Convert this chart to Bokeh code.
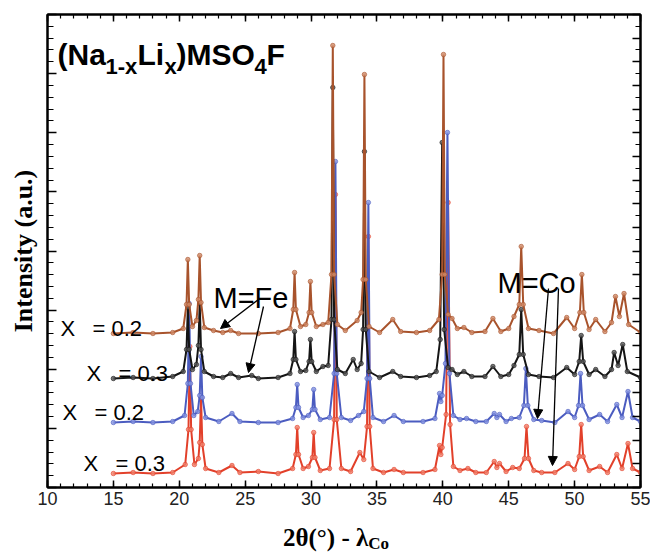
from math import pi
from bokeh.plotting import figure
from bokeh.layouts import column
from bokeh.models import (Range1d, LinearAxis, FixedTicker, Label, Arrow, NormalHead, Div,
                          CustomJSTickFormatter)
from bokeh.embed import file_html
from bokeh.resources import INLINE

# ---------------- data ----------------
# M = Fe, x = 0.2 (brown)
tt_fe02 = [15.0, 16.5, 18.0, 19.5, 20.3, 20.55, 20.65, 20.75, 21.0, 21.3, 21.45, 21.55, 21.65, 21.9,
           22.6, 23.3, 23.9, 24.5, 26.0, 27.5, 28.4, 28.65, 28.75, 28.85, 29.2, 29.6, 29.85, 29.95,
           30.05, 30.4, 30.9, 31.3, 31.55, 31.65, 31.75, 32.0, 32.6, 33.5, 33.8, 33.95, 34.05, 34.15,
           34.4, 35.2, 36.2, 36.8, 38.0, 39.0, 39.7, 39.95, 40.05, 40.15, 40.4, 40.7, 41.1, 41.6,
           42.2, 43.2, 43.8, 44.4, 45.0, 45.4, 45.8, 45.95, 46.1, 46.5, 47.3, 48.4, 49.4, 50.0,
           50.4, 50.55, 50.7, 51.1, 51.6, 52.3, 52.8, 53.1, 53.4, 53.75, 54.1, 55.0]
int_fe02 = [1, 2, 1, 2, 6, 30, 75, 30, 8, 14, 35, 79, 32, 7,
            4, 2, 4, 1, 1, 2, 6, 25, 62, 25, 8, 10, 22, 53,
            22, 8, 10, 12, 60, 289, 60, 10, 4, 14, 22, 55, 260, 55,
            8, 2, 15, 3, 2, 4, 15, 60, 280, 60, 20, 16, 6, 7,
            2, 3, 16, 3, 6, 18, 30, 88, 30, 6, 4, 1, 17, 6,
            22, 60, 22, 5, 15, 3, 12, 38, 18, 41, 10, 2]

# M = Fe, x = 0.3 (black)
tt_fe03 = [15.0, 16.5, 18.0, 19.5, 20.3, 20.55, 20.65, 20.75, 21.0, 21.3, 21.45, 21.55, 21.65, 21.9,
           22.6, 23.3, 23.9, 24.5, 25.5, 26.0, 27.5, 28.4, 28.65, 28.75, 28.85, 29.2, 29.6, 29.85,
           29.95, 30.05, 30.4, 30.9, 31.3, 31.55, 31.65, 31.75, 32.0, 32.6, 33.2, 33.5, 33.8, 33.95,
           34.05, 34.15, 34.4, 35.2, 36.2, 36.8, 38.0, 39.0, 39.5, 39.8, 39.95, 40.1, 40.4, 40.7,
           41.1, 41.6, 42.2, 43.2, 43.8, 44.4, 45.0, 45.4, 45.8, 45.95, 46.1, 46.5, 47.3, 48.4,
           49.4, 50.0, 50.35, 50.5, 50.65, 51.1, 51.6, 52.3, 52.8, 53.0, 53.3, 53.65, 54.0, 55.0]
int_fe03 = [1, 2, 1, 3, 8, 30, 72, 30, 10, 15, 34, 76, 30, 8,
            3, 2, 6, 2, 4, 1, 2, 6, 20, 48, 20, 8, 9, 18,
            40, 18, 8, 13, 14, 60, 292, 60, 10, 6, 20, 10, 16, 50,
            228, 50, 8, 2, 8, 3, 2, 4, 8, 40, 237, 50, 12, 10,
            5, 8, 3, 3, 13, 3, 5, 14, 25, 70, 25, 5, 3, 2,
            12, 5, 18, 44, 18, 5, 10, 3, 10, 27, 14, 35, 8, 2]

# M = Co, x = 0.2 (blue)
tt_co02 = [15.0, 16.5, 18.0, 19.5, 20.4, 20.65, 20.75, 20.85, 21.1, 21.4, 21.55, 21.65, 21.75, 22.0,
           23.0, 24.0, 24.6, 26.0, 27.5, 28.6, 28.85, 28.95, 29.05, 29.4, 29.8, 30.1, 30.2, 30.3,
           30.7, 31.4, 31.75, 31.85, 31.95, 32.3, 33.0, 33.6, 34.0, 34.25, 34.35, 34.45, 34.7, 35.5,
           36.3, 37.0, 38.5, 39.4, 39.75, 39.85, 39.95, 40.2, 40.35, 40.5, 40.8, 41.3, 41.8, 42.5,
           43.3, 43.9, 44.1, 44.3, 44.8, 45.2, 45.8, 46.15, 46.3, 46.45, 46.9, 47.5, 48.5, 49.5,
           50.0, 50.3, 50.45, 50.6, 51.1, 51.9, 52.5, 53.2, 53.6, 54.05, 54.4, 55.0]
int_co02 = [1, 2, 1, 2, 8, 40, 120, 40, 8, 12, 28, 67, 26, 6,
            2, 10, 2, 1, 1, 5, 16, 39, 16, 6, 8, 14, 34, 14,
            4, 6, 50, 262, 50, 6, 3, 8, 12, 45, 221, 45, 6, 2,
            8, 2, 2, 5, 30, 22, 28, 60, 291, 50, 8, 4, 5, 2,
            2, 10, 6, 9, 2, 5, 6, 18, 55, 18, 4, 3, 1, 12,
            6, 18, 50, 18, 4, 9, 2, 19, 6, 32, 6, 2]

# M = Co, x = 0.3 (red)
tt_co03 = [15.0, 16.5, 18.0, 19.5, 20.45, 20.7, 20.8, 20.9, 21.15, 21.45, 21.55, 21.65, 21.75, 22.0,
           23.0, 24.0, 24.6, 26.0, 27.5, 28.6, 28.85, 28.95, 29.05, 29.4, 29.8, 30.1, 30.2, 30.3,
           30.7, 31.4, 31.75, 31.85, 31.95, 32.3, 33.0, 33.7, 34.0, 34.25, 34.35, 34.45, 34.7, 35.5,
           36.3, 37.0, 38.5, 39.4, 39.75, 39.85, 39.95, 40.25, 40.4, 40.55, 40.8, 41.3, 41.9, 42.5,
           43.3, 43.9, 44.1, 44.3, 44.8, 45.3, 45.8, 46.2, 46.35, 46.5, 46.9, 47.5, 48.5, 49.5,
           50.0, 50.35, 50.5, 50.65, 51.1, 51.9, 52.5, 53.2, 53.6, 54.05, 54.4, 55.0]
int_co03 = [1, 2, 1, 2, 10, 45, 128, 45, 10, 16, 32, 77, 30, 6,
            2, 9, 2, 3, 1, 6, 20, 47, 20, 6, 8, 17, 42, 17,
            4, 6, 55, 280, 55, 6, 3, 22, 15, 48, 238, 48, 6, 2,
            5, 2, 2, 5, 29, 20, 27, 60, 272, 50, 8, 4, 6, 2,
            2, 13, 7, 11, 3, 7, 6, 16, 48, 16, 4, 2, 2, 11,
            5, 18, 50, 18, 4, 8, 2, 20, 6, 31, 6, 2]

# vertical offsets of the stacked patterns
offset_fe02 = 153
offset_fe03 = 108
offset_co02 = 64
offset_co03 = 13

x_ticks_major = [10, 15, 20, 25, 30, 35, 40, 45, 50, 55]

# ---------------- figure ----------------
X0, X1 = 10, 55
Y0, Y1 = 0, 473
W, H = 650, 554
PLOT_H = 522
FL, FR, FT, FB = 47, 640, 14, 487


def dx(px):
    return X0 + (px - FL) * (X1 - X0) / (FR - FL)


def dy(py):
    return Y0 + (FB - py) * (Y1 - Y0) / (FB - FT)


p = figure(width=W, height=PLOT_H, x_range=Range1d(X0, X1), y_range=Range1d(Y0, Y1),
           output_backend="svg", toolbar_location=None,
           x_axis_location=None, y_axis_location=None,
           min_border_left=FL, min_border_right=W - FR,
           min_border_top=FT, min_border_bottom=PLOT_H - FB, margin=0)
p.xgrid.visible = False
p.ygrid.visible = False
p.outline_line_color = "black"
p.outline_line_width = 2
p.background_fill_color = "white"
p.border_fill_color = "white"

blank = CustomJSTickFormatter(code="return ''")


def style_axis(ax, major_in=8, minor_in=4, labels=False):
    ax.axis_line_color = "black"
    ax.axis_line_width = 2
    ax.major_tick_in = major_in
    ax.major_tick_out = 0
    ax.minor_tick_in = minor_in
    ax.minor_tick_out = 0
    ax.major_tick_line_width = 1.5
    ax.minor_tick_line_width = 1.2
    ax.major_tick_line_color = "black"
    ax.minor_tick_line_color = "black"
    if not labels:
        ax.formatter = blank
        ax.major_label_standoff = 0


xb = LinearAxis(ticker=FixedTicker(ticks=x_ticks_major,
                                   minor_ticks=list(range(X0, X1 + 1))))
style_axis(xb, 7, 4, labels=True)
xb.major_label_text_font = "Liberation Sans"
xb.major_label_text_font_size = "18px"
xb.major_label_text_color = "#222222"
xb.major_label_standoff = 4
p.add_layout(xb, "below")

xt = LinearAxis(ticker=FixedTicker(ticks=x_ticks_major,
                                   minor_ticks=list(range(X0, X1 + 1))))
style_axis(xt, 7, 4)
p.add_layout(xt, "above")

yl = LinearAxis(ticker=FixedTicker(ticks=[Y0 + i * (Y1 - Y0) / 8 for i in range(9)],
                                   minor_ticks=[Y0 + i * (Y1 - Y0) / 40 for i in range(41)]))
style_axis(yl, 9, 6)
yl.axis_label = "Intensity (a.u.)"
yl.axis_label_text_font = "Liberation Serif"
yl.axis_label_text_font_style = "bold"
yl.axis_label_text_font_size = "26px"
yl.axis_label_text_color = "black"
yl.axis_label_standoff = 10
p.add_layout(yl, "left")

yr = LinearAxis(ticker=FixedTicker(ticks=[Y0 + i * (Y1 - Y0) / 20 for i in range(21)],
                                   minor_ticks=[Y0 + i * (Y1 - Y0) / 40 for i in range(41)]))
style_axis(yr, 8, 5)
p.add_layout(yr, "right")

series = [
    (tt_co03, int_co03, offset_co03, "#e2402a", "#f0806a"),
    (tt_co02, int_co02, offset_co02, "#4b5cc0", "#8392e0"),
    (tt_fe03, int_fe03, offset_fe03, "#151515", "#555555"),
    (tt_fe02, int_fe02, offset_fe02, "#a8532c", "#cf8a66"),
]
for xs, ys, off, lc, mc in series:
    yy = [v + off for v in ys]
    p.line(xs, yy, line_color=lc, line_width=2)
    p.scatter(xs, yy, size=4.5, marker="circle", fill_color=mc, line_color=lc,
              line_width=0.6, fill_alpha=0.8)

# ---------------- texts ----------------
SANS = "Liberation Sans"


def lab(px, py, text, size, style="normal"):
    p.add_layout(Label(x=dx(px), y=dy(py), text=text, text_font=SANS,
                       text_font_size=f"{size}px", text_font_style=style,
                       text_align="left", text_baseline="alphabetic", text_color="black"))


# title (Na1-xLix)MSO4F
tb, sb = 54, 66
lab(57, tb, "(Na", 30, style="bold")
lab(105, sb, "1-x", 22, style="bold")
lab(137, tb, "Li", 30, style="bold")
lab(164, sb, "x", 22, style="bold")
lab(176, tb, ")MSO", 30, style="bold")
lab(254, sb, "4", 22, style="bold")
lab(266, tb, "F", 30, style="bold")

# series labels
for (px, py) in [(60, 328), (86, 373), (62, 412), (83, 463)]:
    lab(px, py, "X", 22)
for (px, py, t) in [(92, 328, "= 0.2"), (118, 373, "= 0.3"), (94, 412, "= 0.2"), (115, 463, "= 0.3")]:
    lab(px, py, t, 22)

lab(213, 297, "M=Fe", 29)
lab(497, 282, "M=Co", 29)

# arrows
for (x0, y0, x1, y1) in [(258, 299, 220, 328), (263, 306, 248, 372),
                         (548, 288, 537, 418), (558, 288, 552, 465)]:
    p.add_layout(Arrow(end=NormalHead(size=9, fill_color="black", line_color="black",
                                      line_width=1),
                       x_start=dx(x0), y_start=dy(y0), x_end=dx(x1), y_end=dy(y1),
                       line_color="black", line_width=1.3))

# x-axis title with subscript, set under the plot
xlabel_html = (
    '<div style="position:relative;width:650px;height:32px;overflow:visible;">'
    '<span style="position:absolute;left:283px;top:1px;font-family:\'Liberation Serif\';'
    'font-weight:bold;font-size:25px;line-height:30px;white-space:nowrap;color:black;">'
    '2θ(°) - λ<span style="font-size:17px;position:relative;top:3px;">Co</span></span></div>'
)
xlabel = Div(text=xlabel_html, width=W, height=H - PLOT_H, margin=0)

layout = column(p, xlabel, spacing=0, margin=0)
open("out.html", "w").write(file_html(layout, INLINE))
